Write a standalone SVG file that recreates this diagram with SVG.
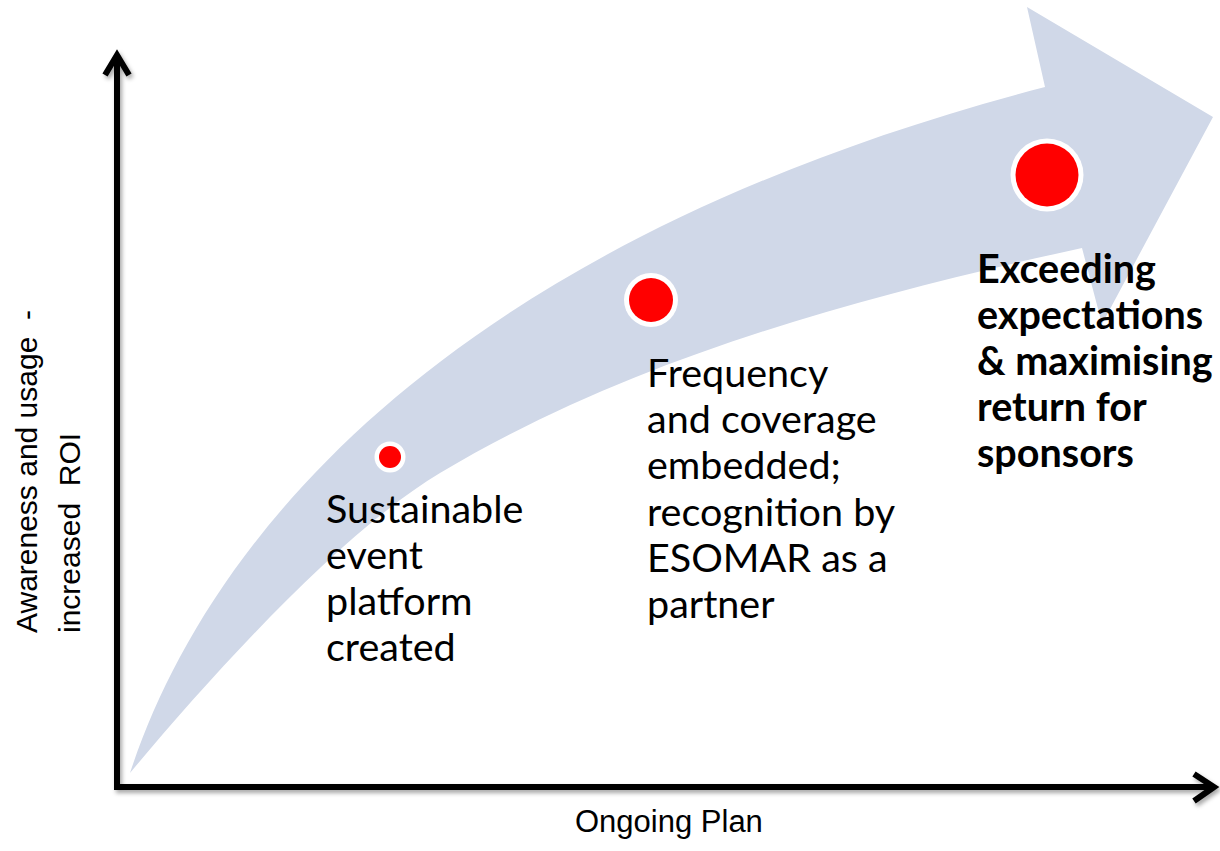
<svg xmlns="http://www.w3.org/2000/svg" width="1220" height="851" viewBox="0 0 1220 851">
  <defs>
    <filter id="shadow" x="-5%" y="-5%" width="110%" height="110%">
      <feDropShadow dx="2" dy="3" stdDeviation="2" flood-color="#000" flood-opacity="0.35"/>
    </filter>
  </defs>
  <style>
    .axis { fill: none; stroke: #000; stroke-width: 6; stroke-linejoin: miter; }
    .lbl { font-family: "Liberation Sans", Arial, sans-serif; font-size: 30px; fill: #000; }
    .xl { font-size: 31px; }
    .txt { font-family: Lato, "Open Sans", sans-serif; font-size: 39.5px; fill: #000; }
    .bold { font-weight: bold; }
    .ring { fill: #fff; }
    .dot { fill: #ff0000; }
  </style>
  <rect width="1220" height="851" fill="#fff"/>

  <g id="growth-arrow">
    <path d="M130,773 C200,560 420,250 1045,87 L1027,7 L1213,117 L1102,324 L1082,248 C882,292 640,353 440,473 C340,533 210,677 130,773 Z" fill="#D0D8E8"/>
  </g>

  <g id="connectors" filter="url(#shadow)">
    <path class="axis" d="M117,56 L117,787 L1212,787"/>
    <path class="axis" d="M105,75 L117,55 L129,75"/>
    <path class="axis" d="M1194,774 L1214,787 L1194,801"/>
  </g>

  <g id="node-1">
    <circle class="ring" cx="390" cy="457" r="15.5"/>
    <circle class="dot" cx="390" cy="457" r="11"/>
    <text class="txt" x="326" y="523">Sustainable</text>
    <text class="txt" x="326" y="569">event</text>
    <text class="txt" x="326" y="615">platform</text>
    <text class="txt" x="326" y="661">created</text>
  </g>

  <g id="node-2">
    <circle class="ring" cx="651" cy="300" r="27"/>
    <circle class="dot" cx="651" cy="300" r="22"/>
    <text class="txt" x="647" y="387">Frequency</text>
    <text class="txt" x="647" y="433">and coverage</text>
    <text class="txt" x="647" y="479">embedded;</text>
    <text class="txt" x="647" y="526">recognition by</text>
    <text class="txt" x="647" y="572">ESOMAR as a</text>
    <text class="txt" x="647" y="618">partner</text>
  </g>

  <g id="node-3">
    <circle class="ring" cx="1047" cy="175" r="36.5"/>
    <circle class="dot" cx="1047" cy="175" r="31.5"/>
    <text class="txt bold" x="977" y="283">Exceeding</text>
    <text class="txt bold" x="977" y="329">expectations</text>
    <text class="txt bold" x="977" y="375">&amp; maximising</text>
    <text class="txt bold" x="977" y="421">return for</text>
    <text class="txt bold" x="977" y="467">sponsors</text>
  </g>

  <g id="y-label">
    <text class="lbl" transform="translate(37,633) rotate(-90)" xml:space="preserve">Awareness and usage  -</text>
    <text class="lbl" transform="translate(80,633) rotate(-90)" xml:space="preserve">increased  ROI</text>
  </g>

  <g id="x-label">
    <text class="lbl xl" x="575" y="832">Ongoing Plan</text>
  </g>
</svg>
